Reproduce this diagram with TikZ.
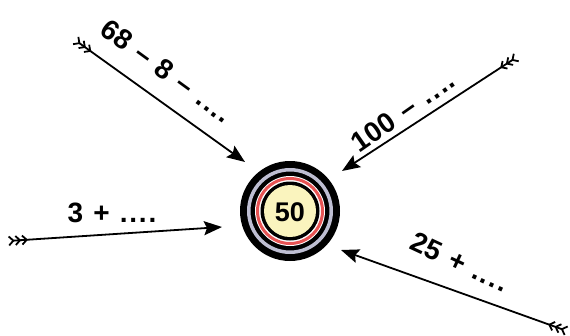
\documentclass[tikz,border=0pt]{standalone}
\usepackage{fontspec}
\setmainfont{Liberation Sans}
\usetikzlibrary{arrows.meta}
\definecolor{ringgray}{RGB}{190,190,210}
\definecolor{ringred}{RGB}{232,84,84}
\definecolor{centeryellow}{RGB}{250,244,190}
\newcommand{\sep}{\hspace{0.36em}}
\newcommand{\dts}{.\kern1.8pt.\kern1.8pt.\kern1.8pt.}
\tikzset{
  dart/.style={line width=1.8pt,
    {Straight Barb[reversed,length=4.5pt,width=9pt,line width=1.8pt] Straight Barb[reversed,length=4.5pt,width=9pt,line width=1.8pt] Straight Barb[reversed,length=4.5pt,width=9pt,line width=1.8pt]}-{Stealth[length=18pt,width=14pt,inset=3pt]}},
  lbl/.style={font=\fontsize{28}{32}\selectfont\bfseries, inner sep=0pt}
}
\begin{document}
\begin{tikzpicture}[x=1pt,y=-1pt]
\useasboundingbox (0,0) rectangle (570,335);
% target
\node[circle, fill=black, minimum size=100pt, inner sep=0pt] (target) at (290,211) {};
\draw[ringgray, line width=3.5pt] (target.center) circle[radius=41.25];
\fill[white] (target.center) circle[radius=35];
\draw[ringred, line width=3pt] (target.center) circle[radius=32.5];
\fill[black] (target.center) circle[radius=29.5];
\fill[centeryellow] (target.center) circle[radius=26];
\node[font=\fontsize{27}{30}\selectfont\bfseries, inner sep=0pt] (fifty) at (290,212) {50};
% arrow tails and heads
\coordinate (t1) at (75,40);   \coordinate (h1) at (245,162);
\coordinate (t2) at (517,57);  \coordinate (h2) at (342,171);
\coordinate (t3) at (8,241);   \coordinate (h3) at (222,227);
\coordinate (t4) at (567,331); \coordinate (h4) at (341,250);
\draw[dart] (t1) -- (h1);
\draw[dart] (t2) -- (h2);
\draw[dart] (t3) -- (h3);
\draw[dart] (t4) -- (h4);
% labels
\node[lbl, rotate=-36] (l1) at (167,71) {68\sep–\sep8\sep–\sep\dts};
\node[lbl, rotate=35] (l2) at (403,111) {100\sep–\sep\dts};
\node[lbl] (l3) at (112,213) {3\sep+\sep\dts};
\node[lbl, rotate=-25] (l4) at (460,262) {25\sep+\sep\dts};
\end{tikzpicture}
\end{document}
